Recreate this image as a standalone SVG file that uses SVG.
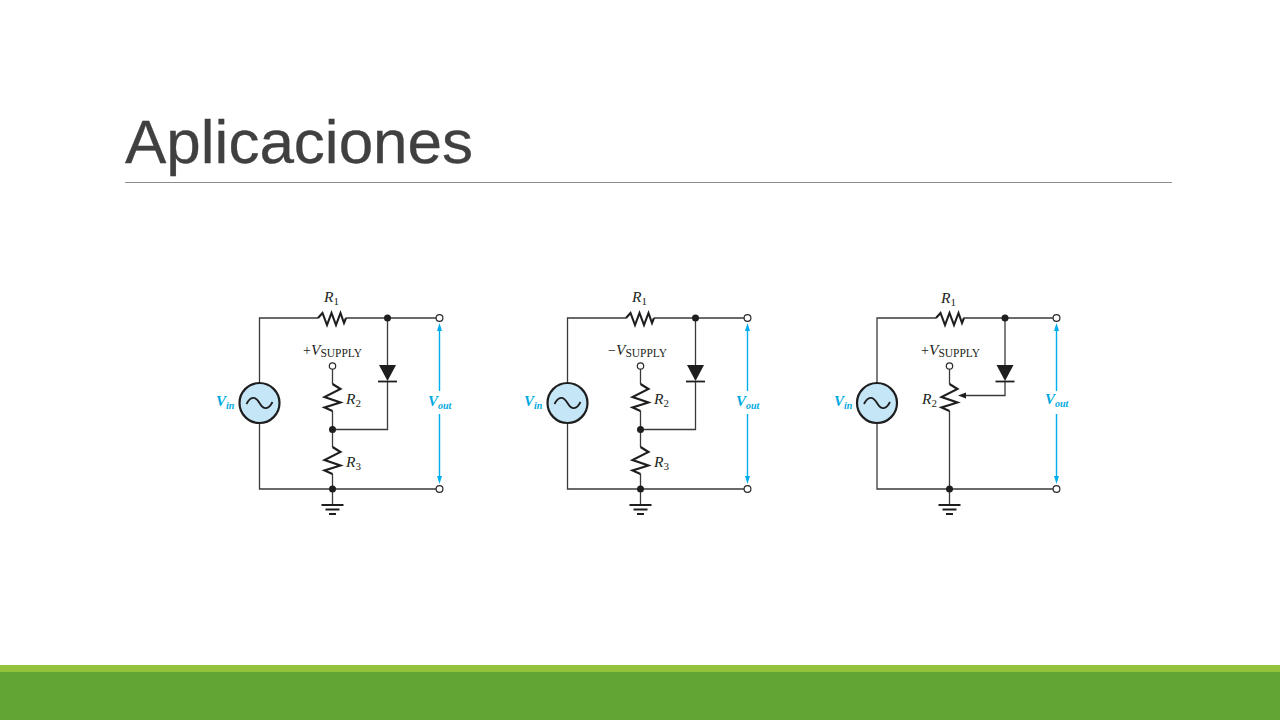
<svg xmlns="http://www.w3.org/2000/svg" width="1280" height="720" viewBox="0 0 1280 720">
<style>
.w{fill:none;stroke:#3a3a3a;stroke-width:1.3}
.z{fill:none;stroke:#1e1e1e;stroke-width:2.100;stroke-linejoin:miter}
.b{fill:none;stroke:#00aeef;stroke-width:1.400}
.t{font-family:"Liberation Serif",serif;fill:#231f20}
.i{font-style:italic;font-size:15.500px}
.p{font-size:14px}
.s{font-size:11.500px}
.n{font-size:11px;font-style:normal}
.c{font-family:"Liberation Serif",serif;fill:#00a9e0;font-weight:bold;font-style:italic;font-size:15px}
.u{font-size:10px}
.j{fill:#1e1e1e}
.o{fill:#fff;stroke:#2a2a2a;stroke-width:1.200}
.a{fill:#00aeef}
</style>
<defs>
<g id="src"><circle r="20" fill="#c5e6f7" stroke="#1e1e1e" stroke-width="2.200"/><path d="M-13 1C-9-7-4-7 0 0S9 7 13-1" fill="none" stroke="#1e1e1e" stroke-width="1.800"/></g>
<g id="dio"><path d="M-8.500 365H8.500L0 381Z" class="j"/><path d="M-9.500 381.500H9.500" stroke="#1e1e1e" stroke-width="1.800"/></g>
<g id="gnd"><path d="M-11 505H11M-7 509.500H7M-3.500 514H3.500" stroke="#1e1e1e" stroke-width="1.800"/></g>
<path id="rh" class="z" d="M0 0L4.500-5 9 7 13.500-5 18 7 22.500-5 26 5 28 0"/>
<path id="rv" class="z" d="M0 0L8 5-8 13 8 18.500-8 23.500 0 27"/>
</defs>
<rect width="1280" height="720" fill="#fff"/>
<text id="title" x="125" y="163" font-family="Liberation Sans, Arial, sans-serif" font-size="62" fill="#404040" stroke="#404040" stroke-width="0.300">Aplicaciones</text>
<path id="rule" d="M125 182.500H1172" stroke="#8c8c8c" stroke-width="1"/>
<rect id="band-light" y="665" width="1280" height="7" fill="#93c23c"/>
<rect id="band" y="672" width="1280" height="48" fill="#62a534"/>

<g id="connectors">
<path class="w" d="M259.500 383V318H318M346 318H436.500M387.500 318V365M387.500 381V429.500H332.500M332.500 369V384M332.500 411V447M332.500 474V505M259.500 423V489H436.500"/>
<path class="b" d="M439.500 328V391M439.500 414V479"/>
<path class="a" d="M439.500 323l-2.500 8h5zM439.500 484l-2.500-8h5z"/>
<path class="w" d="M567.500 383V318H626M654 318H744.500M695.500 318V365M695.500 381V429.500H640.500M640.500 369V384M640.500 411V447M640.500 474V505M567.500 423V489H744.500"/>
<path class="b" d="M747.500 328V391M747.500 414V479"/>
<path class="a" d="M747.500 323l-2.500 8h5zM747.500 484l-2.500-8h5z"/>
<path class="w" d="M877 383V318H936M963.500 318H1054M1005 318V365M1005 381V395.500H964M949.500 369V384M949.500 411V505M877 423V489H1054"/>
<path class="b" d="M1056.500 328V391M1056.500 414V479"/>
<path class="a" d="M1056.500 323l-2.500 8h5zM1056.500 484l-2.500-8h5z"/>
<path class="j" d="M958 395.500l8-3v6z"/>
</g>

<g id="circuit1">
<g id="c1-source"><use href="#src" x="259.500" y="403"/></g>
<text class="c" x="216" y="406">V<tspan class="u" dy="3">in</tspan></text>
<g id="c1-r1"><use href="#rh" x="318" y="318"/><text class="t i" x="324" y="302">R<tspan class="n" dy="3">1</tspan></text></g>
<g id="c1-r2"><use href="#rv" x="332.500" y="384"/><text class="t i" x="346" y="404">R<tspan class="n" dy="3">2</tspan></text></g>
<g id="c1-r3"><use href="#rv" x="332.500" y="447"/><text class="t i" x="346" y="467">R<tspan class="n" dy="3">3</tspan></text></g>
<g id="c1-diode"><use href="#dio" x="387.500"/></g>
<g id="c1-gnd"><use href="#gnd" x="332.500"/></g>
<g id="c1-supply"><text class="t p" x="303" y="355">+<tspan class="i">V</tspan><tspan class="s" dy="2">SUPPLY</tspan></text><circle class="o" cx="332.500" cy="366" r="3.200"/></g>
<g id="c1-points"><circle class="j" cx="387.500" cy="318" r="3.500"/><circle class="j" cx="332.500" cy="429.500" r="3.500"/><circle class="j" cx="332.500" cy="489" r="3.500"/><circle class="o" cx="439.500" cy="318" r="3.400"/><circle class="o" cx="439.500" cy="489" r="3.400"/></g>
<text class="c" x="428" y="406">V<tspan class="u" dy="3">out</tspan></text>
</g>

<g id="circuit2">
<g id="c2-source"><use href="#src" x="567.500" y="403"/></g>
<text class="c" x="524" y="406">V<tspan class="u" dy="3">in</tspan></text>
<g id="c2-r1"><use href="#rh" x="626" y="318"/><text class="t i" x="632" y="302">R<tspan class="n" dy="3">1</tspan></text></g>
<g id="c2-r2"><use href="#rv" x="640.500" y="384"/><text class="t i" x="654" y="404">R<tspan class="n" dy="3">2</tspan></text></g>
<g id="c2-r3"><use href="#rv" x="640.500" y="447"/><text class="t i" x="654" y="467">R<tspan class="n" dy="3">3</tspan></text></g>
<g id="c2-diode"><use href="#dio" x="695.500"/></g>
<g id="c2-gnd"><use href="#gnd" x="640.500"/></g>
<g id="c2-supply"><text class="t p" x="608" y="355">−<tspan class="i">V</tspan><tspan class="s" dy="2">SUPPLY</tspan></text><circle class="o" cx="640.500" cy="366" r="3.200"/></g>
<g id="c2-points"><circle class="j" cx="695.500" cy="318" r="3.500"/><circle class="j" cx="640.500" cy="429.500" r="3.500"/><circle class="j" cx="640.500" cy="489" r="3.500"/><circle class="o" cx="747.500" cy="318" r="3.400"/><circle class="o" cx="747.500" cy="489" r="3.400"/></g>
<text class="c" x="736" y="406">V<tspan class="u" dy="3">out</tspan></text>
</g>

<g id="circuit3">
<g id="c3-source"><use href="#src" x="877" y="403"/></g>
<text class="c" x="834" y="406">V<tspan class="u" dy="3">in</tspan></text>
<g id="c3-r1"><use href="#rh" x="936" y="318"/><text class="t i" x="941" y="303">R<tspan class="n" dy="3">1</tspan></text></g>
<g id="c3-r2"><use href="#rv" x="949.500" y="384"/><text class="t i" x="922" y="404">R<tspan class="n" dy="3">2</tspan></text></g>
<g id="c3-diode"><use href="#dio" x="1005"/></g>
<g id="c3-gnd"><use href="#gnd" x="949.500"/></g>
<g id="c3-supply"><text class="t p" x="921" y="355">+<tspan class="i">V</tspan><tspan class="s" dy="2">SUPPLY</tspan></text><circle class="o" cx="949.500" cy="366" r="3.200"/></g>
<g id="c3-points"><circle class="j" cx="1005" cy="318" r="3.500"/><circle class="j" cx="949.500" cy="489" r="3.500"/><circle class="o" cx="1056.500" cy="318" r="3.400"/><circle class="o" cx="1056.500" cy="489" r="3.400"/></g>
<text class="c" x="1045" y="404">V<tspan class="u" dy="3">out</tspan></text>
</g>
</svg>
